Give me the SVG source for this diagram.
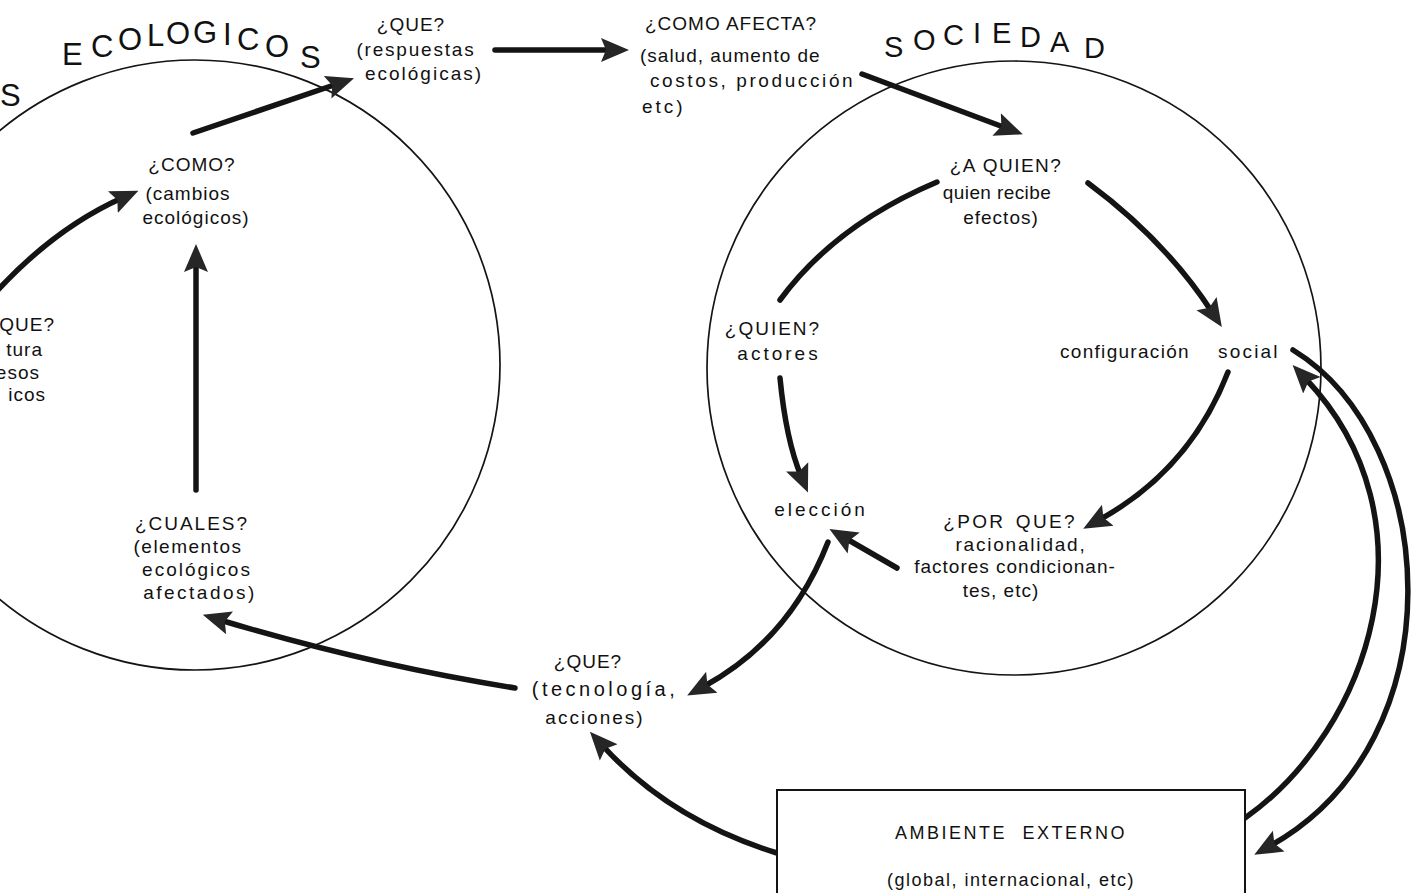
<svg xmlns="http://www.w3.org/2000/svg" width="1414" height="893" viewBox="0 0 1414 893">
  <defs>
    <style>
      .circ { fill: none; stroke: #141414; stroke-width: 1.7; }
      .conn { fill: none; stroke: #141414; stroke-width: 5.5; stroke-linecap: round; }
      .lbl { font-family: "Liberation Sans", Arial, sans-serif; font-size: 19px; letter-spacing: 1px; fill: #111; }
      .wide { letter-spacing: 2px; }
      .mid { text-anchor: middle; }
      .end { text-anchor: end; }
      .title { font-family: "Liberation Sans", Arial, sans-serif; font-size: 31px; fill: #111; }
      .box { fill: #fff; stroke: #141414; stroke-width: 2; }
    </style>
    <marker id="head" markerUnits="userSpaceOnUse" markerWidth="32" markerHeight="28" refX="10" refY="13" orient="auto">
      <path d="M0,1 L28,13 L0,25 L5,13 Z" fill="#262626"/>
    </marker>
  </defs>

  <!-- domain circles with their arched titles -->
  <g id="eco-circle">
    <circle class="circ" cx="195" cy="365" r="305"/>
    <text class="title" x="0" y="106">S</text>
    <text class="title"><tspan x="62" y="65">E</tspan><tspan x="91" y="57">C</tspan><tspan x="118" y="50">O</tspan><tspan x="147" y="46">L</tspan><tspan x="166" y="44">O</tspan><tspan x="193" y="43">G</tspan><tspan x="223" y="45">I</tspan><tspan x="237" y="50">C</tspan><tspan x="265" y="57">O</tspan><tspan x="300" y="68">S</tspan></text>
  </g>
  <g id="soc-circle">
    <circle class="circ" cx="1014" cy="368" r="307"/>
    <text class="title" style="font-size:29px"><tspan x="884" y="57">S</tspan><tspan x="913" y="50">O</tspan><tspan x="943" y="45">C</tspan><tspan x="973" y="43">I</tspan><tspan x="992" y="43">E</tspan><tspan x="1020" y="47">D</tspan><tspan x="1050" y="52">A</tspan><tspan x="1084" y="58">D</tspan></text>
  </g>

  <!-- connectors -->
  <g id="connectors">
    <path class="conn" marker-end="url(#head)" d="M-4,292 Q55,228 122,198"/>
    <path class="conn" marker-end="url(#head)" d="M196,490 L196,262"/>
    <path class="conn" marker-end="url(#head)" d="M193,133 L337,84"/>
    <path class="conn" marker-end="url(#head)" d="M495,50 L611,50"/>
    <path class="conn" marker-end="url(#head)" d="M862,74 L1006,128"/>
    <path class="conn" d="M937,182 Q835,225 780,300"/>
    <path class="conn" marker-end="url(#head)" d="M780,378 Q786,440 801,476"/>
    <path class="conn" marker-end="url(#head)" d="M1088,183 Q1165,240 1212,312"/>
    <path class="conn" marker-end="url(#head)" d="M1228,372 Q1190,470 1099,520"/>
    <path class="conn" marker-end="url(#head)" d="M897,568 L845,538"/>
    <path class="conn" marker-end="url(#head)" d="M828,542 Q790,640 703,687"/>
    <path class="conn" marker-end="url(#head)" d="M515,688 Q370,665 220,620"/>
    <path class="conn" marker-end="url(#head)" d="M777,853 Q670,820 602,745"/>
    <path class="conn" marker-end="url(#head)" d="M1245,818 C1370,730 1440,520 1305,378"/>
    <path class="conn" marker-end="url(#head)" d="M1293,350 C1440,440 1460,740 1270,846"/>
  </g>

  <!-- nodes -->
  <g id="n-porque-eco">
    <text class="lbl end" x="55" y="331">QUE?</text>
    <text class="lbl end" x="43" y="356">tura</text>
    <text class="lbl end" x="40" y="379">esos</text>
    <text class="lbl end" x="46" y="401">icos</text>
  </g>
  <g id="n-como">
    <text class="lbl mid" x="192" y="171">¿COMO?</text>
    <text class="lbl mid" x="188" y="200">(cambios</text>
    <text class="lbl mid" x="196" y="224">ecológicos)</text>
  </g>
  <g id="n-cuales">
    <text class="lbl mid wide" x="192" y="530">¿CUALES?</text>
    <text class="lbl mid" x="188" y="553" style="letter-spacing:1.5px">(elementos</text>
    <text class="lbl mid wide" x="197" y="576">ecológicos</text>
    <text class="lbl mid" x="200" y="599" style="letter-spacing:2.5px">afectados)</text>
  </g>
  <g id="n-respuestas">
    <text class="lbl mid" x="411" y="31">¿QUE?</text>
    <text class="lbl mid" x="416" y="56" style="letter-spacing:1.8px">(respuestas</text>
    <text class="lbl mid wide" x="424" y="80">ecológicas)</text>
  </g>
  <g id="n-afecta">
    <text class="lbl" x="645" y="30">¿COMO  AFECTA?</text>
    <text class="lbl" x="640" y="62">(salud, aumento de</text>
    <text class="lbl" x="650" y="87" style="letter-spacing:2.6px">costos, producción</text>
    <text class="lbl" x="642" y="113" style="letter-spacing:3px">etc)</text>
  </g>
  <g id="n-aquien">
    <text class="lbl mid" x="1006" y="172" style="letter-spacing:1.5px">¿A QUIEN?</text>
    <text class="lbl mid" x="997" y="199" style="letter-spacing:0.4px">quien recibe</text>
    <text class="lbl mid" x="1001" y="224">efectos)</text>
  </g>
  <g id="n-quien">
    <text class="lbl mid wide" x="773" y="335">¿QUIEN?</text>
    <text class="lbl mid" x="779" y="360" style="letter-spacing:3px">actores</text>
  </g>
  <g id="n-eleccion">
    <text class="lbl mid" x="821" y="516" style="letter-spacing:3px">elección</text>
  </g>
  <g id="n-config">
    <text class="lbl" y="358"><tspan x="1060" style="letter-spacing:1.3px">configuración</tspan><tspan x="1218" style="letter-spacing:2.2px">social</tspan></text>
  </g>
  <g id="n-porque">
    <text class="lbl mid" x="1010" y="528" style="letter-spacing:2.3px;word-spacing:3px">¿POR QUE?</text>
    <text class="lbl mid" x="1021" y="551" style="letter-spacing:1.8px">racionalidad,</text>
    <text class="lbl mid" x="1015" y="573">factores condicionan-</text>
    <text class="lbl mid" x="1001" y="597">tes, etc)</text>
  </g>
  <g id="n-tecnologia">
    <text class="lbl mid" x="588" y="668">¿QUE?</text>
    <text class="lbl mid" x="605" y="696" style="font-size:20px;letter-spacing:3.5px">(tecnología,</text>
    <text class="lbl mid wide" x="595" y="724">acciones)</text>
  </g>
  <g id="n-ambiente">
    <rect class="box" x="777" y="790" width="468" height="120"/>
    <text class="lbl mid" x="1011" y="839" style="font-size:18px;letter-spacing:2.5px;word-spacing:8px">AMBIENTE EXTERNO</text>
    <text class="lbl mid" x="1011" y="886" style="font-size:18px;letter-spacing:1.5px">(global, internacional, etc)</text>
  </g>
</svg>
